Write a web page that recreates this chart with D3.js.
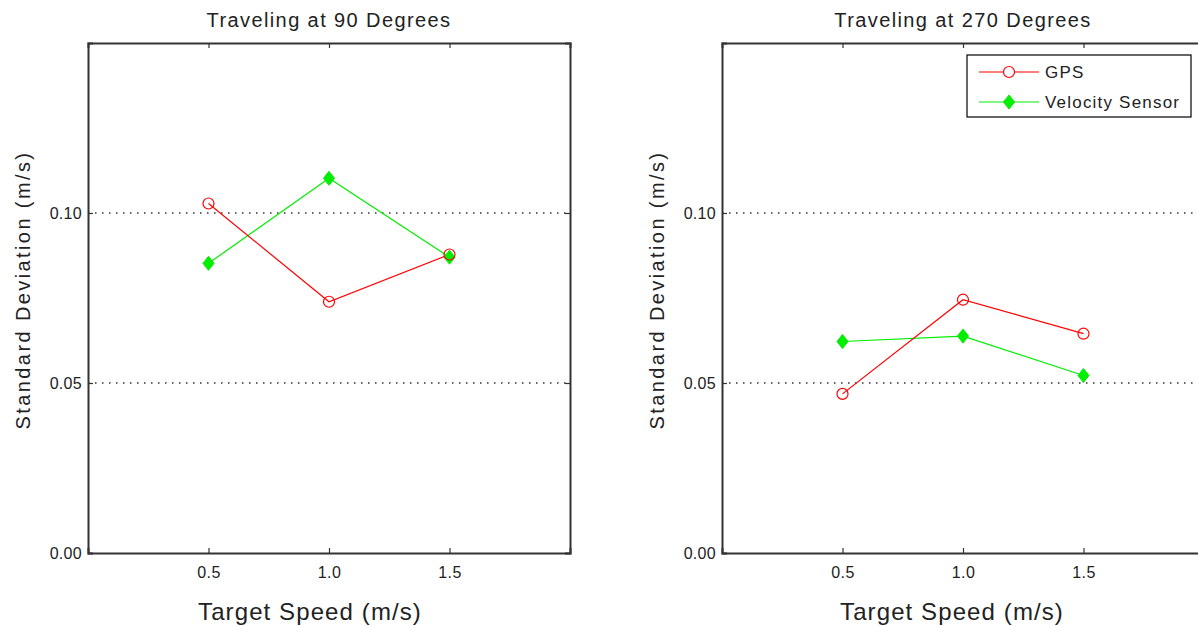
<html>
<head>
<script src="https://d3js.org/d3.v7.min.js"></script>
<style>
  body { margin: 0; background: #fff; }
  text { font-family: "Liberation Sans", Arial, sans-serif; fill: #222; }
</style>
</head>
<body>
<svg id="fig" width="1198" height="626"></svg>
<script>
// values
const speeds = [0.5, 1.0, 1.5];
const xTicks = [0.5, 1.0, 1.5];
const yTicks = [0.00, 0.05, 0.10];
const gridLevels = [0.05, 0.10];
const gps90 = [0.1028, 0.0739, 0.0878];
const vel90 = [0.0852, 0.1102, 0.0870];
const gps270 = [0.0468, 0.0745, 0.0645];
const vel270 = [0.0622, 0.0638, 0.0522];
const titles = ["Traveling at 90 Degrees", "Traveling at 270 Degrees"];
const seriesNames = ["GPS", "Velocity Sensor"];

const svg = d3.select("#fig");
const plotW = 482, plotH = 510, plotTop = 43;
const panelLeft = [88, 722];
const xLabelShift = [-19, -11];
const red = "#ff0000", green = "#00ee00";

const xScale = d3.scaleLinear().domain([0, 2]).range([0, plotW]);
const yScale = d3.scaleLinear().domain([0, 0.15]).range([plotH, 0]);

function diamond(s) {
  s.attr("d", "M0,-7L5.5,0L0,7L-5.5,0Z").attr("fill", green).attr("stroke", green);
}

function drawPanel(i, gps, vel) {
  const g = svg.append("g").attr("transform", `translate(${panelLeft[i]},${plotTop})`);

  // dotted grid
  g.selectAll("line.grid").data(gridLevels).join("line")
    .attr("x1", 0).attr("x2", plotW)
    .attr("y1", d => yScale(d)).attr("y2", d => yScale(d))
    .attr("stroke", "#333").attr("stroke-width", 1.4)
    .attr("stroke-dasharray", "1.5,5.5");

  // box + inward ticks
  const bottomA = d3.axisBottom(xScale).tickValues(xTicks).tickSize(-5).tickFormat(d3.format(".1f"));
  const topA = d3.axisTop(xScale).tickValues(xTicks).tickSize(-5).tickFormat("");
  const leftA = d3.axisLeft(yScale).tickValues(yTicks).tickSize(-5).tickFormat(d3.format(".2f"));
  const rightA = d3.axisRight(yScale).tickValues(yTicks).tickSize(-5).tickFormat("");

  const xb = g.append("g").attr("transform", `translate(0,${plotH})`).call(bottomA);
  g.append("g").call(topA);
  const yl = g.append("g").call(leftA);
  g.append("g").attr("transform", `translate(${plotW},0)`).call(rightA);

  g.selectAll(".domain").attr("stroke", "#333").attr("stroke-width", 2);
  g.selectAll(".tick line").attr("stroke", "#333").attr("stroke-width", 1.2);
  xb.selectAll("text").attr("dy", 0).attr("y", 25)
    .style("font-size", "16px").style("letter-spacing", "0.5px").attr("fill", "#222");
  yl.selectAll("text").attr("x", -6).attr("dy", "0.35em")
    .style("font-size", "16px").style("letter-spacing", "0.3px").attr("fill", "#222");

  // series lines
  const line = d3.line().x((d, j) => xScale(speeds[j])).y(d => yScale(d));
  g.append("path").datum(vel).attr("d", line)
    .attr("fill", "none").attr("stroke", green).attr("stroke-width", 1.2);
  g.append("path").datum(gps).attr("d", line)
    .attr("fill", "none").attr("stroke", red).attr("stroke-width", 1.2);

  g.selectAll("path.vm").data(vel).join("path").attr("class", "vm")
    .attr("transform", (d, j) => `translate(${xScale(speeds[j])},${yScale(d)})`)
    .call(diamond);
  g.selectAll("circle.gm").data(gps).join("circle").attr("class", "gm")
    .attr("cx", (d, j) => xScale(speeds[j])).attr("cy", d => yScale(d))
    .attr("r", 5.5).attr("fill", "none").attr("stroke", red).attr("stroke-width", 1.2);

  // labels
  g.append("text").attr("x", plotW / 2).attr("y", -16)
    .attr("text-anchor", "middle").style("font-size", "20px").style("letter-spacing", "1.4px")
    .text(titles[i]);
  g.append("text").attr("x", plotW / 2 + xLabelShift[i]).attr("y", plotH + 67)
    .attr("text-anchor", "middle").style("font-size", "24px").style("letter-spacing", "1.1px")
    .attr("fill", "#000").text("Target Speed (m/s)");
  g.append("text").attr("transform", `translate(-58,${plotH / 2 - 8}) rotate(-90)`)
    .attr("text-anchor", "middle").style("font-size", "20px").style("letter-spacing", "2.4px")
    .text("Standard Deviation (m/s)");
  return g;
}

drawPanel(0, gps90, vel90);
const g2 = drawPanel(1, gps270, vel270);

// legend in the second panel
const leg = g2.append("g").attr("transform", "translate(245,12)");
leg.append("rect").attr("width", 224).attr("height", 62)
  .attr("fill", "#fff").attr("stroke", "#000").attr("stroke-width", 1.2);
const rows = leg.selectAll("g.row").data(seriesNames).join("g")
  .attr("transform", (d, j) => `translate(0,${17 + j * 30})`);
rows.append("line").attr("x1", 12).attr("x2", 72)
  .attr("stroke", (d, j) => j ? green : red).attr("stroke-width", 1.2);
rows.filter((d, j) => j === 0).append("circle").attr("cx", 42).attr("r", 5.5)
  .attr("fill", "#fff").attr("stroke", red).attr("stroke-width", 1.2);
rows.filter((d, j) => j === 1).append("path").attr("transform", "translate(42,0)").call(diamond);
rows.append("text").attr("x", 78).attr("dy", "0.35em")
  .style("font-size", "17px").style("letter-spacing", "1.2px").text(d => d);
</script>
</body>
</html>
